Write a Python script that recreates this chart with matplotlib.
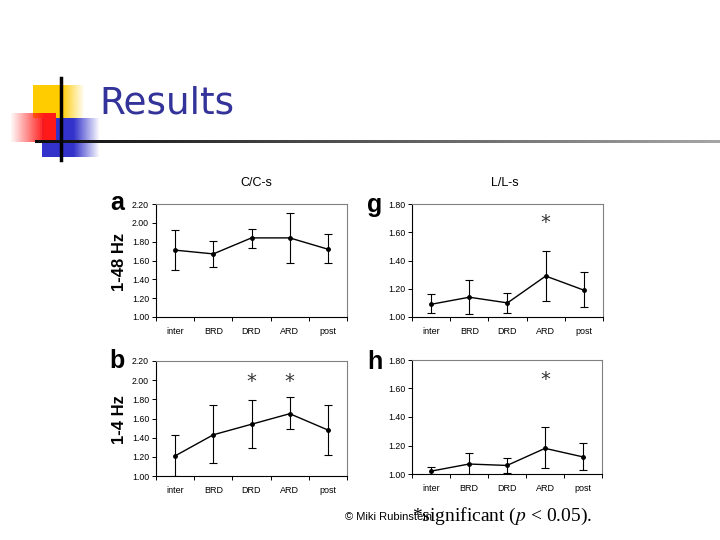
import numpy as np
import matplotlib
matplotlib.use("Agg")
import matplotlib.pyplot as plt

# 数据
categories = ["inter", "BRD", "DRD", "ARD", "post"]

a_mean = [1.71, 1.67, 1.84, 1.84, 1.72]
a_low = [1.50, 1.53, 1.73, 1.57, 1.57]
a_high = [1.92, 1.81, 1.93, 2.10, 1.88]

g_mean = [1.09, 1.14, 1.10, 1.29, 1.19]
g_low = [1.03, 1.02, 1.03, 1.11, 1.07]
g_high = [1.16, 1.26, 1.17, 1.47, 1.32]
g_star = [3]
g_star_y = 1.67

b_mean = [1.21, 1.43, 1.54, 1.65, 1.48]
b_low = [1.00, 1.14, 1.29, 1.49, 1.22]
b_high = [1.43, 1.74, 1.79, 1.82, 1.74]
b_star = [2, 3]
b_star_y = 1.99

h_mean = [1.02, 1.07, 1.06, 1.18, 1.12]
h_low = [1.00, 1.00, 1.01, 1.04, 1.03]
h_high = [1.05, 1.15, 1.11, 1.33, 1.22]
h_star = [3]
h_star_y = 1.66

W, H = 720, 540
fig = plt.figure(figsize=(7.2, 5.4), dpi=100)


def px_axes(x0, y0, x1, y1):
    # 像素坐标（左上原点）转换为figure坐标
    return fig.add_axes([x0 / W, 1 - y1 / H, (x1 - x0) / W, (y1 - y0) / H])


def gradient_box(x0, y0, x1, y1, rgb, direction="right", solid=0.6):
    ax = px_axes(x0, y0, x1, y1)
    n = 100
    t = np.linspace(0, 1, n)
    if direction == "right":
        alpha = np.where(t < solid, 1.0, 1 - (t - solid) / (1 - solid))
    else:
        alpha = np.where(t > 1 - solid, 1.0, t / (1 - solid))
    img = np.ones((2, n, 4))
    img[..., :3] = rgb
    img[..., 3] = alpha
    ax.imshow(img, aspect="auto", extent=[0, 1, 0, 1])
    ax.axis("off")
    return ax


# 标题装饰
gradient_box(33, 85, 85, 118, (1.0, 0.8, 0.0), "right", 0.55)
gradient_box(42, 118, 100, 157, (0.2, 0.2, 0.8), "right", 0.55)
gradient_box(10, 113, 55, 142, (1.0, 0.1, 0.1), "left", 0.25)

# 渐变横线
line_ax = px_axes(35, 140, 720, 143)
n = 200
t = np.linspace(0, 1, n)
img = np.ones((2, n, 3)) * (0.05 + 0.6 * t)[None, :, None]
line_ax.imshow(img, aspect="auto", extent=[0, 1, 0, 1])
line_ax.axis("off")

deco = fig.add_axes([0, 0, 1, 1], facecolor="none")
deco.set_xlim(0, W)
deco.set_ylim(H, 0)
deco.axis("off")
deco.plot([61, 61], [78, 160], color="black", lw=2.5)

fig.text(99 / W, 1 - 103 / H, "Results", fontsize=27, color="#333399",
         family="DejaVu Sans", va="center", ha="left")


def panel(box, mean, low, high, ylim, yticks, stars=None, star_y=None):
    ax = px_axes(*box)
    x = np.arange(len(categories))
    mean = np.array(mean)
    err = [mean - np.array(low), np.array(high) - mean]
    ax.errorbar(x, mean, yerr=err, color="black", lw=1.0, elinewidth=0.8,
                capsize=3, capthick=0.8, marker="o", markersize=2.5)
    ax.set_xlim(-0.5, len(categories) - 0.5)
    ax.set_ylim(*ylim)
    ax.set_yticks(yticks)
    ax.set_yticklabels([f"{v:.2f}" for v in yticks], fontsize=6.3, family="Liberation Sans")
    ax.set_xticks(x)
    ax.set_xticklabels(categories, fontsize=6.5, family="Liberation Sans")
    ax.set_xticks(np.arange(-0.5, len(categories)), minor=True)
    ax.tick_params(axis="x", which="major", length=0, pad=7)
    ax.tick_params(axis="x", which="minor", length=3, width=0.7)
    ax.tick_params(axis="y", length=3, width=0.7, pad=2)
    for s in ["top", "right"]:
        ax.spines[s].set_color("#808080")
    for s in ["left", "bottom"]:
        ax.spines[s].set_color("black")
    for s in ax.spines.values():
        s.set_linewidth(0.8)
    if stars:
        for i in stars:
            ax.text(i, star_y, "*", ha="center", va="center", fontsize=14,
                    family="DejaVu Sans", color="#333333")
    return ax


ax_a = panel((156, 204, 347, 317), a_mean, a_low, a_high, (1.0, 2.2),
             [1.0, 1.2, 1.4, 1.6, 1.8, 2.0, 2.2])
ax_g = panel((412, 204, 603, 317), g_mean, g_low, g_high, (1.0, 1.8),
             [1.0, 1.2, 1.4, 1.6, 1.8], g_star, g_star_y)
ax_b = panel((156, 361, 347, 476), b_mean, b_low, b_high, (1.0, 2.2),
             [1.0, 1.2, 1.4, 1.6, 1.8, 2.0, 2.2], b_star, b_star_y)
ax_h = panel((412, 360, 602, 474), h_mean, h_low, h_high, (1.0, 1.8),
             [1.0, 1.2, 1.4, 1.6, 1.8], h_star, h_star_y)

# 列标题
fig.text(256 / W, 1 - 183 / H, "C/C-s", fontsize=9, family="Liberation Sans",
         ha="center", va="center")
fig.text(505 / W, 1 - 183 / H, "L/L-s", fontsize=9, family="Liberation Sans",
         ha="center", va="center")

# 面板字母
for lx, ly, lt in [(117, 203, "a"), (375, 205, "g"), (117, 361, "b"), (375, 362, "h")]:
    fig.text(lx / W, 1 - ly / H, lt, fontsize=18, fontweight="bold",
             family="Liberation Sans", ha="center", va="center")

# y轴标题
fig.text(119 / W, 1 - 262 / H, "1-48 Hz", fontsize=12, fontweight="bold",
         family="Liberation Sans", rotation=90, ha="center", va="center")
fig.text(119 / W, 1 - 420 / H, "1-4 Hz", fontsize=12, fontweight="bold",
         family="Liberation Sans", rotation=90, ha="center", va="center")

# 页脚
fig.text(345 / W, 1 - 517 / H, "© Miki Rubinstein", fontsize=8,
         family="Liberation Sans", ha="left", va="center")
fig.text(412 / W, 1 - 516 / H, "*significant ($p$ < 0.05).", fontsize=14,
         family="Liberation Serif", ha="left", va="center",
         math_fontfamily="stix")

fig.savefig("out.png", dpi=100)
